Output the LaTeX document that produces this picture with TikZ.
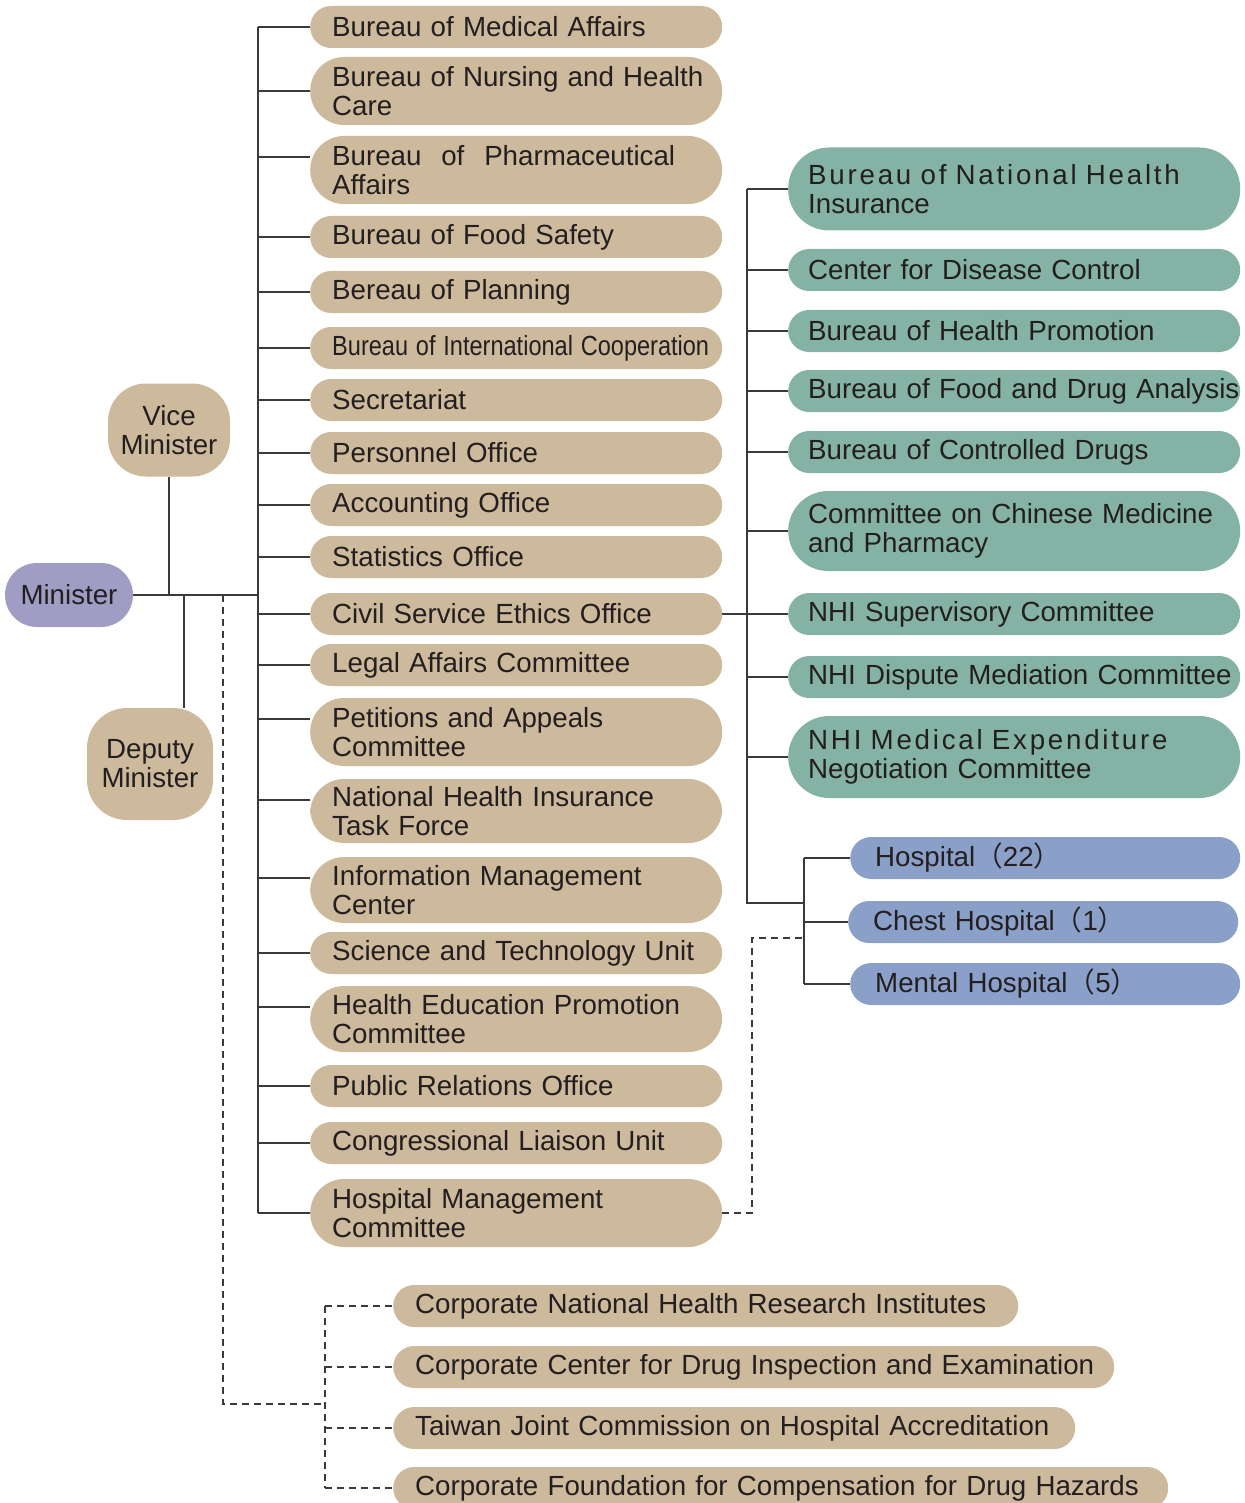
\documentclass[tikz,border=0pt]{standalone}
\usepackage{fontspec}
\usepackage{graphicx}
\setmainfont{Liberation Sans}
\newfontfamily\cjk{Noto Sans CJK SC}
\definecolor{boxtan}{HTML}{CDB99B}
\definecolor{boxgreen}{HTML}{84B2A4}
\definecolor{boxblue}{HTML}{8AA0C9}
\definecolor{boxlilac}{HTML}{A09DC4}
\definecolor{ink}{HTML}{231F20}
\definecolor{wire}{HTML}{3A3A3A}
\newcommand\spaced[1]{\mbox{\addfontfeature{LetterSpace=10}#1}}

\begin{document}
\begin{tikzpicture}
  [x=1pt,y=-1pt,
   every node/.style={font=\fontsize{27.7}{29}\selectfont, text=ink, inner ysep=2pt},
   unit/.style={fill=boxtan, rounded corners=21pt, minimum height=42pt, anchor=west,
     align=left, inner xsep=22pt, text width=368pt},
   tall/.style={minimum height=68pt, rounded corners=34pt},
   nhi/.style={unit, fill=boxgreen, inner xsep=20pt, text width=412pt},
   hosp/.style={unit, fill=boxblue, inner xsep=25pt, text width=340pt},
   head/.style={fill=boxtan, align=center, inner sep=0pt},
   link/.style={draw=wire, line width=1.4pt},
   dlink/.style={link, dash pattern=on 7pt off 5pt}]
  \useasboundingbox (0,0) rectangle (1244,1503);

  \node[fill=boxlilac, rounded corners=32pt, minimum width=128pt, minimum height=64pt, inner sep=0pt] (min) at (69,595) {Minister};
  \node[head, rounded corners=38pt, minimum width=122pt, minimum height=93pt] (vice) at (169,430) {Vice\\Minister};
  \node[head, rounded corners=40pt, minimum width=126pt, minimum height=112pt] (dep) at (150,764) {Deputy\\Minister};

  \node[unit] (b1) at (310,27) {Bureau of Medical Affairs};
  \node[unit,tall] (b2) at (310,91) {\mbox{Bureau of Nursing and Health}\\Care};
  \node[unit,tall] (b3) at (310,170) {\hbox to 343pt{Bureau \hfill of \hfill Pharmaceutical}\\Affairs};
  \node[unit] (b4) at (310,237) {Bureau of Food Safety};
  \node[unit] (b5) at (310,292) {Bereau of Planning};
  \node[unit] (b6) at (310,348) {\scalebox{0.85}[1]{Bureau of International Cooperation}};
  \node[unit] (b7) at (310,400) {Secretariat};
  \node[unit] (b8) at (310,453) {Personnel Office};
  \node[unit] (b9) at (310,505) {Accounting Office};
  \node[unit] (b10) at (310,557) {Statistics Office};
  \node[unit] (b11) at (310,614) {Civil Service Ethics Office};
  \node[unit] (b12) at (310,665) {Legal Affairs Committee};
  \node[unit,tall] (b13) at (310,732) {Petitions and Appeals\\Committee};
  \node[unit,tall,minimum height=64pt] (b14) at (310,811) {National Health Insurance\\Task Force};
  \node[unit,tall,minimum height=66pt] (b15) at (310,890) {Information Management\\Center};
  \node[unit] (b16) at (310,953) {\mbox{Science and Technology Unit}};
  \node[unit,tall,minimum height=66pt] (b17) at (310,1019) {Health Education Promotion\\Committee};
  \node[unit] (b18) at (310,1086) {Public Relations Office};
  \node[unit] (b19) at (310,1143) {\mbox{Congressional Liaison Unit}};
  \node[unit,tall] (b20) at (310,1213) {Hospital Management\\Committee};

  \node[nhi,tall,minimum height=83pt,rounded corners=41pt] (g1) at (788,189) {\spaced{Bureau of National Health}\\Insurance};
  \node[nhi] (g2) at (788,270) {Center for Disease Control};
  \node[nhi] (g3) at (788,331) {Bureau of Health Promotion};
  \node[nhi] (g4) at (788,391) {\mbox{Bureau of Food and Drug Analysis}};
  \node[nhi] (g5) at (788,452) {Bureau of Controlled Drugs};
  \node[nhi,tall,minimum height=80pt,rounded corners=40pt] (g6) at (788,531) {\mbox{Committee on Chinese Medicine}\\and Pharmacy};
  \node[nhi] (g7) at (788,614) {NHI Supervisory Committee};
  \node[nhi] (g8) at (788,677) {\mbox{NHI Dispute Mediation Committee}};
  \node[nhi,tall,minimum height=82pt,rounded corners=41pt] (g9) at (788,757) {\spaced{NHI Medical Expenditure}\\Negotiation Committee};

  \node[hosp] (h1) at (850,858) {Hospital{\cjk（}22{\cjk）}};
  \node[hosp] (h2) at (848,922) {Chest Hospital{\cjk（}1{\cjk）}};
  \node[hosp] (h3) at (850,984) {Mental Hospital{\cjk（}5{\cjk）}};

  \node[unit,text width=581pt] (c1) at (393,1306) {\mbox{Corporate National Health Research Institutes}};
  \node[unit,text width=677pt] (c2) at (393,1367) {\mbox{Corporate Center for Drug Inspection and Examination}};
  \node[unit,text width=638pt] (c3) at (393,1428) {\mbox{Taiwan Joint Commission on Hospital Accreditation}};
  \node[unit,text width=731pt] (c4) at (393,1488) {\mbox{Corporate Foundation for Compensation for Drug Hazards}};

  \coordinate (lspine) at (258,0);
  \coordinate (rspine) at (747,0);
  \coordinate (hspine) at (804,903);
  \coordinate (dj) at (184,595);
  \coordinate (cd) at (223,595);
  \coordinate (cspine) at (325,1404);
  \coordinate (hd) at (752,938);

  \draw[link] (min.east) -- (lspine |- min.east);
  \draw[link] (vice.south) -- (vice.south |- min.east);
  \draw[link] (dj) -- (dj |- dep.north);
  \draw[link] (lspine |- b1.west) -- (lspine |- b20.west);
  \foreach \n/\d in {1/0,2/0,3/13,4/0,5/0,6/0,7/0,8/0,9/0,10/0,11/0,12/0,13/13,14/11,15/12,16/0,17/12,18/0,19/0,20/0} {
    \path ([yshift=\d pt]b\n.west) coordinate (t);
    \draw[link] (lspine |- t) -- (t);
  }

  \draw[link] (b11.east) -- (rspine |- b11.east);
  \draw[link] (rspine |- g1.west) |- (hspine);
  \foreach \i in {1,...,9}
    \draw[link] (rspine |- g\i.west) -- (g\i.west);
  \draw[link] (hspine |- h1.west) -- (hspine |- h3.west);
  \foreach \i in {1,2,3}
    \draw[link] (hspine |- h\i.west) -- (h\i.west);

  \draw[dlink] (cd) |- (cspine);
  \draw[dlink] (cspine |- c1.west) -- (cspine |- c4.west);
  \foreach \i in {1,...,4}
    \draw[dlink] (cspine |- c\i.west) -- (c\i.west);
  \draw[dlink] (b20.east) -| (hd) -- (hd -| hspine);
\end{tikzpicture}
\end{document}
